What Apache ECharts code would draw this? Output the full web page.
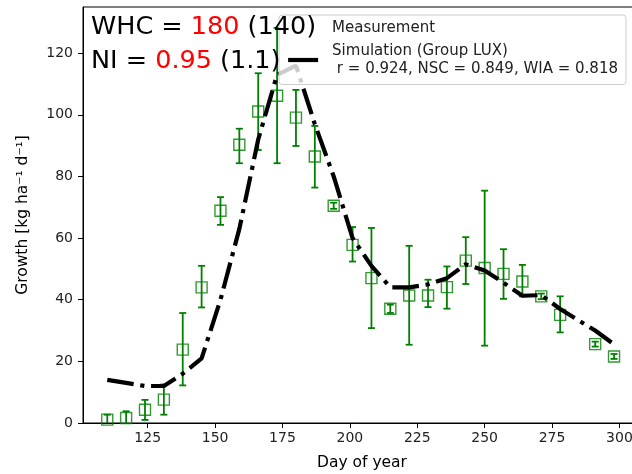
<!DOCTYPE html>
<html>
<head>
<meta charset="utf-8">
<script src="https://cdn.jsdelivr.net/npm/echarts@6/dist/echarts.min.js"></script>
<style>
  html, body { margin: 0; padding: 0; background: #fff; }
  #chart { width: 632px; height: 474px; }
</style>
</head>
<body>
<div id="chart"></div>
<script>
// day of year for every measurement / simulation point
var days = [110, 117, 124, 131, 138, 145, 152, 159, 166, 173, 180, 187, 194, 201,
            208, 215, 222, 229, 236, 243, 250, 257, 264, 271, 278, 291, 298];
// measured growth and its error bar bounds
var measured = [1.1, 1.6, 4.3, 7.6, 23.8, 44.0, 68.9, 90.3, 101.1, 106.2, 99.1, 86.5, 70.5, 57.8,
                47.0, 37.1, 41.4, 41.4, 44.1, 52.7, 50.3, 48.4, 45.9, 41.1, 35.1, 25.6, 21.6];
var errLow = [-0.5, -0.6, 1.0, 2.7, 12.2, 37.5, 64.3, 84.3, 88.6, 84.3, 89.9, 76.4, 69.5, 52.4,
              30.8, 35.7, 25.4, 37.6, 37.1, 45.1, 25.1, 40.3, 41.1, 40.2, 29.4, 24.8, 20.8];
var errHigh = [2.7, 3.8, 7.5, 12.5, 35.7, 51.0, 73.3, 95.5, 113.5, 128.2, 108.1, 96.4, 71.5, 63.6,
               63.3, 38.4, 57.5, 46.5, 50.8, 60.3, 75.4, 56.4, 51.3, 42.0, 41.1, 26.4, 22.4];
// simulated growth (Group LUX)
var simulated = [14, 13, 12, 12, 16, 21, 40, 63, 92, 113, 116, 97, 80, 60,
                 51, 44, 44, 45, 47, 51.5, 49.5, 45.5, 41.3, 41.5, 37, 30, 25.5];
// tick labels
var xTicks = [125, 150, 175, 200, 225, 250, 275, 300];
var yTicks = [0, 20, 40, 60, 80, 100, 120];

var GREEN = '#008000';
var FONT = 'DejaVu Sans';
var simName = 'Simulation (Group LUX)\n r = 0.924, NSC = 0.849, WIA = 0.818';

var measPoints = [], errPoints = [], simPoints = [];
for (var i = 0; i < days.length; i++) {
  measPoints.push([days[i], measured[i]]);
  errPoints.push([days[i], errLow[i], errHigh[i]]);
  simPoints.push([days[i], simulated[i]]);
}

// vertical error bar with caps
function renderErr(params, api) {
  var x = api.value(0);
  var lo = api.coord([x, api.value(1)]);
  var hi = api.coord([x, api.value(2)]);
  var c = 3.5;
  var st = { stroke: GREEN, lineWidth: 1.8 };
  return {
    type: 'group',
    children: [
      { type: 'line', shape: { x1: lo[0], y1: lo[1], x2: hi[0], y2: hi[1] }, style: st },
      { type: 'line', shape: { x1: lo[0] - c, y1: lo[1], x2: lo[0] + c, y2: lo[1] }, style: st },
      { type: 'line', shape: { x1: hi[0] - c, y1: hi[1], x2: hi[0] + c, y2: hi[1] }, style: st }
    ]
  };
}

var myChart = echarts.init(document.getElementById('chart'), null, { renderer: 'canvas' });
var option = {
  animation: false,
  textStyle: { fontFamily: FONT },
  title: {
    left: 91,
    top: 11,
    padding: 0,
    z: 8,
    text: '{a|WHC = }{b|180}{a| (140)}\n{a|NI = }{b|0.95}{a| (1.1)}',
    textStyle: {
      fontWeight: 'normal',
      rich: {
        a: { fontFamily: FONT, fontSize: 25.5, fontWeight: 'normal', color: '#000', lineHeight: 33.3 },
        b: { fontFamily: FONT, fontSize: 25.5, fontWeight: 'normal', color: '#ff0000', lineHeight: 33.3 }
      }
    }
  },
  legend: {
    orient: 'vertical',
    left: 279,
    top: 15,
    z: 6,
    padding: [4, 8, 7, 7],
    itemGap: 6,
    itemWidth: 30,
    itemHeight: 4,
    backgroundColor: 'rgba(255,255,255,0.8)',
    borderColor: '#cccccc',
    borderWidth: 1,
    borderRadius: 3,
    itemStyle: { color: 'transparent', borderWidth: 0 },
    lineStyle: { type: 'solid', width: 4.2, color: '#000' },
    textStyle: { fontFamily: FONT, fontSize: 15, color: '#222', lineHeight: 17.5, padding: [0, 0, 0, 9] },
    data: [{ name: 'Measurement', icon: 'none' }, { name: simName }]
  },
  grid: {
    left: 83, top: 7, width: 558, bottom: 51,
    outerBoundsMode: 'none',
    containLabel: false,
    show: true, borderColor: '#000', borderWidth: 1
  },
  xAxis: {
    type: 'value',
    min: 101,
    max: 308,
    name: 'Day of year',
    nameLocation: 'middle',
    nameGap: 32,
    nameTextStyle: { fontFamily: FONT, fontSize: 15.5, color: '#000' },
    axisLine: { lineStyle: { color: '#000', width: 1 } },
    axisTick: { customValues: xTicks, length: 5, lineStyle: { color: '#000' } },
    axisLabel: { customValues: xTicks, fontSize: 14, color: '#222', margin: 8 },
    splitLine: { show: false }
  },
  yAxis: {
    type: 'value',
    min: 0,
    max: 135,
    name: 'Growth [kg ha\u207B\u00B9 d\u207B\u00B9]',
    nameLocation: 'middle',
    nameGap: 52,
    nameTextStyle: { fontFamily: FONT, fontSize: 15.5, color: '#000' },
    axisLine: { show: true, lineStyle: { color: '#000', width: 1 } },
    axisTick: { show: true, customValues: yTicks, length: 5, lineStyle: { color: '#000' } },
    axisLabel: { customValues: yTicks, fontSize: 14, color: '#222', margin: 10 },
    splitLine: { show: false }
  },
  series: [
    {
      name: 'Measurement',
      type: 'custom',
      renderItem: renderErr,
      data: errPoints,
      encode: { x: 0, y: [1, 2] },
      itemStyle: { color: GREEN },
      clip: true,
      z: 2
    },
    {
      name: 'Measurement',
      type: 'scatter',
      symbol: 'rect',
      symbolSize: 11,
      data: measPoints,
      itemStyle: { color: 'transparent', borderColor: GREEN, borderWidth: 1.4 },
      z: 2
    },
    {
      name: simName,
      type: 'line',
      symbol: 'none',
      data: simPoints,
      itemStyle: { color: '#000' },
      lineStyle: { color: '#000', width: 4.2, type: [26.7, 6.7, 4.2, 6.7] },
      z: 3
    }
  ]
};
myChart.setOption(option);
</script>
</body>
</html>
